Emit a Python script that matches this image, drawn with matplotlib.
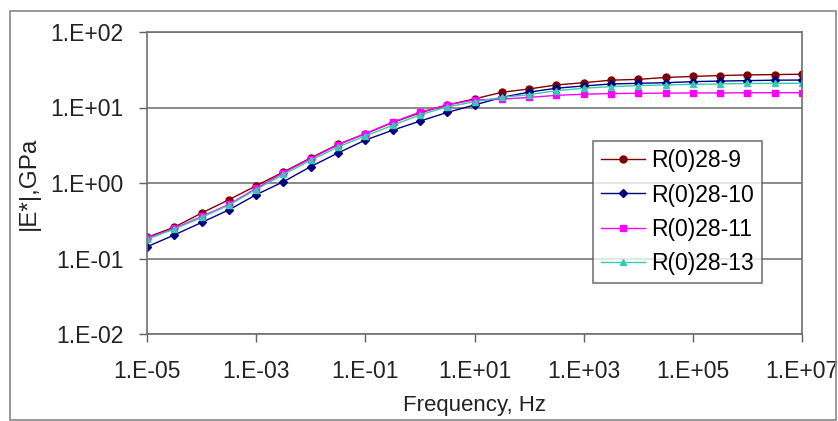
import numpy as np
import matplotlib
matplotlib.use("Agg")
import matplotlib.pyplot as plt
from matplotlib.ticker import FixedLocator, FuncFormatter, NullLocator
from matplotlib.patches import Rectangle

plt.rcParams['font.family'] = ['Liberation Sans', 'DejaVu Sans']

# frequency points, half a decade apart, 1E-05 .. 1E+07 Hz
freq = [1e-5, 3.16e-5, 1e-4, 3.16e-4, 1e-3, 3.16e-3, 1e-2, 3.16e-2, 1e-1, 3.16e-1,
        1e0, 3.16e0, 1e1, 3.16e1, 1e2, 3.16e2, 1e3, 3.16e3, 1e4, 3.16e4,
        1e5, 3.16e5, 1e6, 3.16e6, 1e7]

# |E*| in GPa
e_r9 = [0.19, 0.26, 0.40, 0.60, 0.92, 1.40, 2.15, 3.25, 4.5, 6.3,
        8.5, 10.8, 13.0, 15.9, 17.6, 19.9, 21.3, 23.0, 23.6, 25.0,
        25.8, 26.5, 27.0, 27.3, 27.6]
e_r10 = [0.143, 0.205, 0.30, 0.44, 0.70, 1.04, 1.65, 2.5, 3.7, 5.0,
         6.6, 8.6, 10.8, 13.6, 16.0, 18.0, 19.3, 20.5, 20.9, 21.3,
         22.0, 22.4, 22.7, 23.0, 23.1]
e_r11 = [0.185, 0.25, 0.36, 0.52, 0.85, 1.37, 2.1, 3.2, 4.5, 6.4,
         8.7, 10.8, 12.6, 12.9, 13.6, 14.5, 15.0, 15.3, 15.4, 15.5,
         15.6, 15.6, 15.7, 15.7, 15.7]
e_r13 = [0.18, 0.245, 0.35, 0.51, 0.82, 1.30, 2.0, 3.0, 4.2, 5.8,
         8.0, 10.2, 11.9, 13.6, 14.8, 16.7, 18.0, 18.9, 19.5, 19.9,
         20.3, 20.5, 20.8, 20.9, 20.9]

series = [
    ('R(0)28-9', e_r9, '#800000', 'o', 5),
    ('R(0)28-10', e_r10, '#000080', 'D', 4),
    ('R(0)28-11', e_r11, '#FF00FF', 's', 5),
    ('R(0)28-13', e_r13, '#33CCB0', '^', 5),
]

x_ticks = [1e-5, 1e-3, 1e-1, 1e1, 1e3, 1e5, 1e7]
y_ticks = [1e-2, 1e-1, 1e0, 1e1, 1e2]

fig = plt.figure(figsize=(8.38, 4.21), dpi=100)
ax = fig.add_axes([147 / 838, 1 - 334 / 421, 655 / 838, 302 / 421])

for name, vals, col, mk, ms in series:
    ax.plot(freq, vals, color=col, marker=mk, markersize=ms, linewidth=1,
            label=name)

ax.set_xscale('log')
ax.set_yscale('log')
ax.set_xlim(1e-5, 1e7)
ax.set_ylim(1e-2, 1e2)

def sci_label(v, pos):
    return "1.E%+03d" % int(round(np.log10(v)))

ax.xaxis.set_major_locator(FixedLocator(x_ticks))
ax.yaxis.set_major_locator(FixedLocator(y_ticks))
ax.xaxis.set_minor_locator(NullLocator())
ax.yaxis.set_minor_locator(NullLocator())
ax.xaxis.set_major_formatter(FuncFormatter(sci_label))
ax.yaxis.set_major_formatter(FuncFormatter(sci_label))
ax.tick_params(axis='both', labelsize=16.5, color='#606060', length=6, width=1,
               direction='out', labelcolor='#222222')
ax.tick_params(axis='x', pad=13)
ax.tick_params(axis='y', pad=11)

ax.grid(axis='y', color='#808080', linewidth=1.3)
ax.set_axisbelow(True)
for sp in ax.spines.values():
    sp.set_color('#707070')
    sp.set_linewidth(1.2)

ax.set_xlabel('Frequency, Hz', fontsize=16, color='#222222', labelpad=8)
ax.set_ylabel('|E*|,GPa', fontsize=17.5, color='#222222')
ax.yaxis.set_label_coords(-107 / 655, 0.5)

leg = ax.legend(loc='upper left', bbox_to_anchor=(0.681, 0.639),
                borderaxespad=0, fontsize=16.5, frameon=True, fancybox=False,
                handlelength=1.9, handletextpad=0.3, labelspacing=0.5,
                borderpad=0.35)
leg.get_frame().set_edgecolor('#555555')
leg.get_frame().set_linewidth(1.2)

# outer chart frame
fig.patches.append(Rectangle((10 / 838, 0.002), 826 / 838, 1 - 11 / 421 - 0.002,
                             transform=fig.transFigure, fill=False,
                             edgecolor='#888888', linewidth=1.2))

fig.savefig('out.png', dpi=100)
